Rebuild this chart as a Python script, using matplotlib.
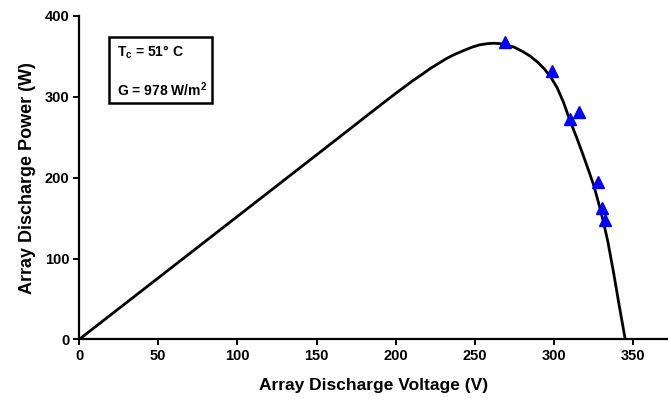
import matplotlib
matplotlib.use("Agg")
import matplotlib.pyplot as plt
from matplotlib.patches import Rectangle

# Curva P-V
voltage_curve = [0, 50, 100, 150, 190, 200, 211, 217, 222, 227, 232, 237,
                 243, 248, 253, 258, 262, 266, 270, 275, 280, 285, 290,
                 294, 298, 302, 306, 310, 314, 318, 322, 325, 328,
                 331, 334, 337.5, 341, 345]
power_curve = [0, 76, 152, 228, 289, 304, 320, 328, 335, 341, 347, 352,
               357, 361, 364, 365.5, 366, 365.5, 364, 361, 356, 350, 342,
               334, 324, 311, 293, 271, 251, 230, 208, 191, 170,
               147, 121, 84, 44, 0]

# Pontos medidos
voltage_meas = [269, 298.5, 310, 315.5, 327.5, 330, 332]
power_meas = [367, 332, 273, 281, 194, 163, 148]

x_ticks = [0, 50, 100, 150, 200, 250, 300, 350]
y_ticks = [0, 100, 200, 300, 400]

plt.rcParams['font.family'] = ['Liberation Sans', 'DejaVu Sans']
plt.rcParams['font.weight'] = 'bold'
plt.rcParams['mathtext.default'] = 'regular'

fig = plt.figure(figsize=(6.68, 4.03), dpi=100)
ax = fig.add_axes([0.1183, 0.1576, 0.8817, 0.8034])

ax.plot(voltage_curve, power_curve, color='black', lw=2.0, zorder=2,
        solid_joinstyle='round')
ax.plot(voltage_meas, power_meas, linestyle='none', marker='^',
        color='#0000ff', markersize=8, zorder=3)

ax.set_xlim(0, 372)
ax.set_ylim(0, 400)
ax.set_xticks(x_ticks)
ax.set_yticks(y_ticks)
ax.spines['top'].set_visible(False)
ax.spines['right'].set_visible(False)
ax.spines['left'].set_linewidth(1.6)
ax.spines['bottom'].set_linewidth(1.6)
ax.tick_params(width=1.4, length=4, labelsize=10.5, pad=3)
for lbl in ax.get_xticklabels() + ax.get_yticklabels():
    lbl.set_fontweight('bold')

ax.set_xlabel('Array Discharge Voltage (V)', fontsize=12.5, fontweight='bold', labelpad=11)
ax.set_ylabel('Array Discharge Power (W)', fontsize=13, fontweight='bold', labelpad=6)

# Caixa com condições
ax.add_patch(Rectangle((0.051, 0.730), 0.175, 0.204, transform=ax.transAxes,
                       facecolor='white', edgecolor='black', lw=1.8, zorder=4))
ax.text(0.0645, 0.888, 'T$_c$ = 51° C', transform=ax.transAxes, fontsize=10,
        fontweight='bold', va='center', ha='left', zorder=5)
ax.text(0.0645, 0.771, 'G = 978 W/m$^2$', transform=ax.transAxes, fontsize=10,
        fontweight='bold', va='center', ha='left', zorder=5)

fig.savefig('out.png', dpi=100)
